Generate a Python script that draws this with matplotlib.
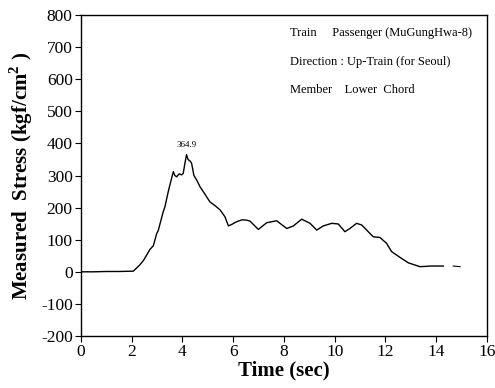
import matplotlib.pyplot as plt

plt.rcParams['font.family'] = ['Liberation Serif', 'DejaVu Serif']
plt.rcParams['mathtext.fontset'] = 'custom'
plt.rcParams['mathtext.rm'] = 'Liberation Serif'
plt.rcParams['mathtext.bf'] = 'Liberation Serif:bold'
plt.rcParams['axes.unicode_minus'] = False

# stress record
time_s = [0.0, 0.5, 1.0, 1.5, 2.06, 2.3, 2.46, 2.72, 2.85, 2.98, 3.05, 3.24, 3.31,
          3.44, 3.55, 3.64, 3.70, 3.77, 3.87, 3.97, 4.03, 4.10, 4.16, 4.22, 4.30,
          4.36, 4.45, 4.56, 4.69, 4.90, 5.08, 5.30, 5.48, 5.67, 5.81, 5.95, 6.13,
          6.35, 6.53, 6.66, 6.99, 7.32, 7.71, 8.11, 8.37, 8.70, 9.03, 9.29, 9.55,
          9.88, 10.14, 10.40, 10.60, 10.86, 11.06, 11.32, 11.52, 11.78, 12.04,
          12.24, 12.57, 12.90, 13.36, 13.80, 14.28]
stress = [0, 0, 1, 1, 2, 20, 35, 70, 81, 118, 130, 187, 203,
          250, 285, 312, 300, 296, 305, 302, 307, 340, 364.9, 350, 345,
          338, 300, 286, 265, 240, 218, 205, 193, 172, 143, 148, 156,
          162, 161, 158, 132, 153, 159, 135, 143, 164, 151, 130, 143,
          151, 149, 125, 135, 151, 146, 125, 109, 107, 89,
          63, 45, 28, 16, 18, 18]
tail_t = [14.67, 14.94]
tail_v = [18, 16]

x_ticks = [0, 2, 4, 6, 8, 10, 12, 14, 16]
y_ticks = [-200, -100, 0, 100, 200, 300, 400, 500, 600, 700, 800]
info_lines = ["Train     Passenger (MuGungHwa-8)",
              "Direction : Up-Train (for Seoul)",
              "Member    Lower  Chord"]

fig = plt.figure(figsize=(4.95, 3.88), dpi=100)
ax = fig.add_axes([0.1636, 0.134, 0.8202, 0.8273])

ax.plot(time_s, stress, color='black', lw=1.0)
ax.plot(tail_t, tail_v, color='black', lw=0.8)

ax.set_xlim(0, 16)
ax.set_ylim(-200, 800)
ax.set_xticks(x_ticks)
ax.set_yticks(y_ticks)
ax.tick_params(direction='out', length=4, width=0.8, labelsize=12.5, pad=2)
for sp in ax.spines.values():
    sp.set_linewidth(1.0)

ax.set_xlabel('Time (sec)', fontsize=15, fontweight='bold', labelpad=0)
ax.set_ylabel(r'Measured  Stress (kgf/cm$^{\mathbf{2}}$ )', fontsize=15,
              fontweight='bold', labelpad=4)

ax.annotate('364.9', xy=(4.16, 364.9), xytext=(4.16, 395), ha='center',
            va='center', fontsize=6.5)

for i, line in enumerate(info_lines):
    ax.text(0.515, 0.945 - i * 0.09, line, transform=ax.transAxes,
            fontsize=9, va='center', ha='left')

fig.savefig('out.png', dpi=100)
